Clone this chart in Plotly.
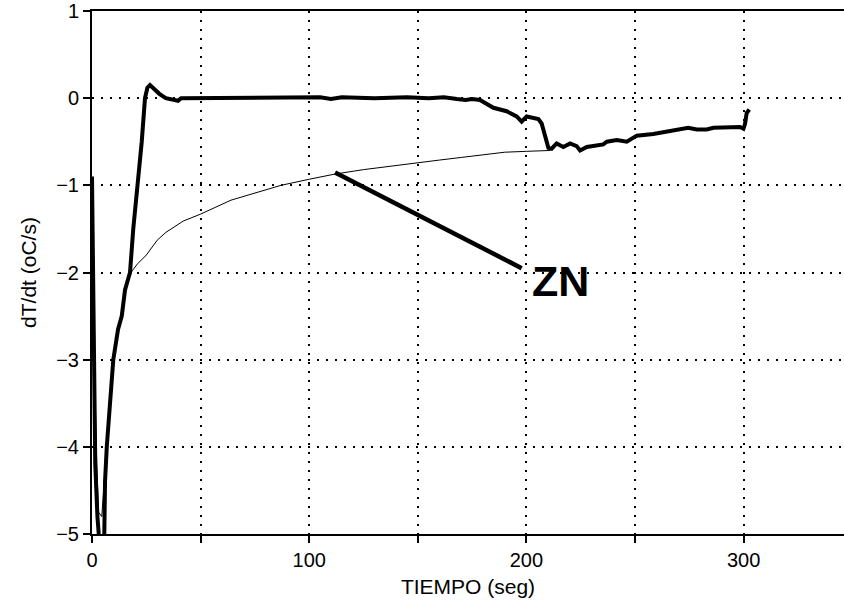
import plotly.graph_objects as go

# Thick (measured) curve
thick_x = [0, 0.5, 1.0, 1.5, 2.5, 4.0, 5.5, 6.0, 6.8, 8.0, 9.8, 12.0, 13.7, 15.2, 17.5, 19.0, 21.0, 22.9, 24.4,
           25.5, 26.7, 28.0, 31.0, 34.0, 37.0, 39.6, 41.0, 45, 60, 80, 100, 105, 110, 115, 130, 145, 155, 162,
           168, 172, 175, 178.6, 184.8, 190.9, 195.5, 197.8, 200.1, 205.5, 207.0, 208.6, 210.1, 211.6, 213.9,
           217.0, 220.1, 223.1, 224.7, 227.8, 230.8, 235.4, 237.0, 241.6, 246.2, 249.2, 250.8, 258.4, 264.6,
           270.7, 274.5, 278.4, 283.0, 286.1, 292.2, 298.3, 299.9, 300.6, 301.4, 302.6]
thick_y = [-0.9, -2.0, -3.1, -4.2, -4.8, -5.3, -5.3, -4.4, -4.0, -3.6, -3.0, -2.65, -2.5, -2.2, -2.0, -1.5, -1.0,
           -0.5, 0.0, 0.12, 0.15, 0.12, 0.05, 0.0, -0.01, -0.03, 0.0, 0.0, 0.0, 0.0, 0.0, 0.01, -0.01, 0.01, 0.0,
           0.01, 0.0, 0.01, -0.01, -0.02, -0.01, -0.02, -0.11, -0.15, -0.21, -0.27, -0.21, -0.24, -0.29, -0.44,
           -0.57, -0.58, -0.52, -0.56, -0.52, -0.55, -0.60, -0.56, -0.55, -0.53, -0.50, -0.48, -0.50, -0.46,
           -0.43, -0.41, -0.38, -0.36, -0.34, -0.36, -0.36, -0.34, -0.34, -0.33, -0.35, -0.30, -0.17, -0.13]

# Thin (ZN model) curve
thin_x = [0, 0.8, 1.6, 2.2, 3.0, 4.5, 5.5, 6.5, 8.0, 10.0, 12.0, 15.0, 16.5, 18.5, 21, 25, 30, 34, 42, 50, 64, 72,
          87, 100, 112, 125, 140, 150, 160, 170, 180, 190, 200, 211]
thin_y = [-1.0, -2.5, -3.6, -4.2, -4.75, -4.8, -4.5, -4.1, -3.6, -3.0, -2.7, -2.25, -2.1, -1.98, -1.9, -1.8, -1.63,
          -1.54, -1.41, -1.33, -1.17, -1.11, -1.0, -0.93, -0.87, -0.82, -0.77, -0.74, -0.71, -0.68, -0.65, -0.62,
          -0.61, -0.60]

# ZN pointer line and label
zn_line_x = [111.9, 197.8]
zn_line_y = [-0.853, -1.95]
zn_label = "ZN"
zn_label_x = 215.5
zn_label_y = -2.10

x_ticks = [0, 50, 100, 150, 200, 250, 300]
x_ticktext = ["0", "", "100", "", "200", "", "300"]
y_ticks = [1, 0, -1, -2, -3, -4, -5]

FONT = "Liberation Sans, Arial, sans-serif"

fig = go.Figure()
fig.add_trace(go.Scatter(x=thin_x, y=thin_y, mode="lines", line=dict(color="black", width=1),
                         showlegend=False, hoverinfo="skip"))
fig.add_trace(go.Scatter(x=thick_x, y=thick_y, mode="lines", line=dict(color="black", width=4),
                         showlegend=False, hoverinfo="skip"))
fig.add_trace(go.Scatter(x=zn_line_x, y=zn_line_y, mode="lines", line=dict(color="black", width=4.5),
                         showlegend=False, hoverinfo="skip"))
fig.add_annotation(x=zn_label_x, y=zn_label_y, text="<b>" + zn_label + "</b>", showarrow=False,
                   font=dict(family=FONT, size=43, color="black"), xanchor="center", yanchor="middle")

fig.update_layout(
    width=844, height=605,
    margin=dict(l=92, r=0, t=11, b=71),
    paper_bgcolor="white", plot_bgcolor="white",
    font=dict(family=FONT, size=20, color="black"),
    xaxis=dict(range=[0, 346.2], tickvals=x_ticks, ticktext=x_ticktext,
               ticks="outside", ticklen=7, tickwidth=1.5, tickcolor="black",
               showline=True, linewidth=2, linecolor="black", mirror=True,
               showgrid=True, gridcolor="black", gridwidth=2, griddash="2px,7px",
               zeroline=False,
               title=dict(text="TIEMPO (seg)", font=dict(size=21), standoff=9)),
    yaxis=dict(range=[-5, 1], tickvals=y_ticks,
               ticks="outside", ticklen=7, tickwidth=1.5, tickcolor="black",
               showline=True, linewidth=2, linecolor="black",
               showgrid=True, gridcolor="black", gridwidth=2, griddash="2px,7px",
               zeroline=False,
               title=dict(text="dT/dt (oC/s)", font=dict(size=21), standoff=14)),
)

fig.write_html("out.html")
